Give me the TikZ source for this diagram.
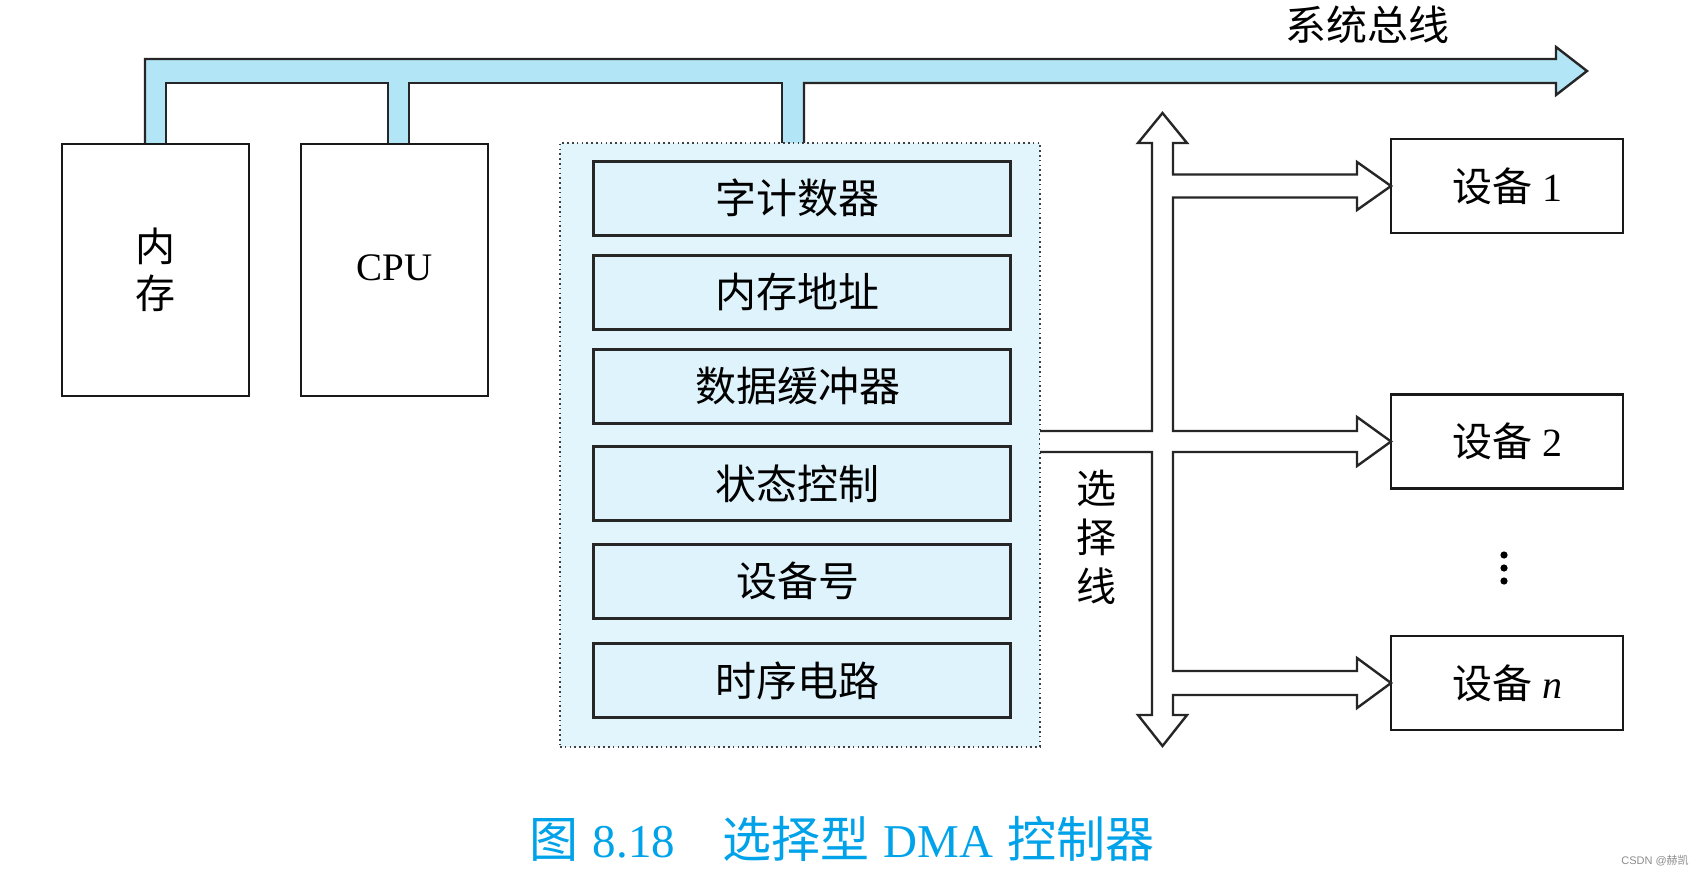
\documentclass[tikz,border=0pt]{standalone}
\usepackage{fontspec}
\setmainfont{Liberation Serif}
\newfontfamily\cjk{Noto Sans CJK SC}
\newfontfamily\wmfont{Liberation Sans}
\definecolor{busfill}{RGB}{178,230,247}
\definecolor{dmafill}{RGB}{226,245,252}
\definecolor{regfill}{RGB}{222,243,251}
\definecolor{capcol}{RGB}{0,163,233}
\begin{document}
\begin{tikzpicture}[x=1pt,y=-1pt,
  box/.style={draw=black!90, line width=2.4pt, inner sep=0pt, outer sep=0pt, fill=white},
  regbox/.style={draw=black!85, line width=3pt, fill=regfill, inner sep=0pt, outer sep=0pt,
    minimum width=417, minimum height=74, font=\cjk\fontsize{41}{46}\selectfont},
  devbox/.style={box, minimum width=232, minimum height=94, font=\fontsize{40}{46}\selectfont},
  outline/.style={draw=black!85, line width=2.4pt, line join=miter},
  lbl/.style={font=\cjk\fontsize{41}{48}\selectfont, inner sep=0pt, align=center}]
\useasboundingbox[fill=white] (0,0) rectangle (1704,876);

% system bus (fat arrow)
\fill[busfill] (145,144) -- (145,59) -- (1556,59) -- (1556,47) -- (1587,71) -- (1556,95) -- (1556,83)
  -- (804,83) -- (804,143) -- (782,143) -- (782,83) -- (409,83) -- (409,144) -- (388,144) -- (388,83)
  -- (166,83) -- (166,144) -- cycle;
\draw[outline] (145,144) -- (145,59) -- (1556,59) -- (1556,47) -- (1587,71) -- (1556,95) -- (1556,83) -- (804,83) -- (804,143);
\draw[outline] (782,143) -- (782,83) -- (409,83) -- (409,144);
\draw[outline] (388,144) -- (388,83) -- (166,83) -- (166,144);
\node[lbl] (busLabel) at (1367,25) {系统总线};

% memory and CPU
\node[box, anchor=north west, minimum width=187, minimum height=252, align=center,
      font=\cjk\fontsize{40}{47}\selectfont] (mem) at (62,144) {内\\存};
\node[box, anchor=north west, minimum width=187, minimum height=252,
      font=\fontsize{39}{44}\selectfont] (cpu) at (301,144) {\raisebox{5pt}{CPU}};

% DMA controller
\node[draw=black!75, fill=dmafill, line width=2pt, dash pattern=on 1.6pt off 3.2pt,
      anchor=north west, minimum width=480, minimum height=604, inner sep=0pt, outer sep=0pt] (dma) at (560,143) {};
\node[regbox] (r1) at (801.5,198) {字计数器\hspace*{8pt}};
\node[regbox] (r2) at (801.5,292) {内存地址\hspace*{8pt}};
\node[regbox] (r3) at (801.5,386) {数据缓冲器\hspace*{8pt}};
\node[regbox] (r4) at (801.5,483.5) {状态控制\hspace*{8pt}};
\node[regbox] (r5) at (801.5,581) {设备号\hspace*{8pt}};
\node[regbox] (r6) at (801.5,680.5) {时序电路\hspace*{8pt}};

% devices
\node[devbox] (dev1) at (1507,186) {{\cjk 设备} 1};
\node[devbox] (dev2) at (1507,441.5) {{\cjk 设备} 2};
\node[devbox] (devn) at (1507,683) {{\cjk 设备} \textit{n}};
\fill (1504,555) circle (3.6) (1504,568) circle (3.6) (1504,581) circle (3.6);

% selection line bus
\draw[outline, fill=white] (dma.east |- 0,431) -- (1152,431) -- (1152,143) -- (1138,143) -- (1162.5,113) -- (1187,143) -- (1173,143)
  -- (1173,174.5) -- (1357,174.5) -- (1357,162) -- (dev1.west) -- (1357,210) -- (1357,197.5) -- (1173,197.5)
  -- (1173,431) -- (1357,431) -- (1357,417) -- (dev2.west) -- (1357,466) -- (1357,452) -- (1173,452)
  -- (1173,671) -- (1357,671) -- (1357,658) -- (devn.west) -- (1357,708) -- (1357,695) -- (1173,695)
  -- (1173,715) -- (1187,715) -- (1162.5,746) -- (1138,715) -- (1152,715) -- (1152,452) -- (dma.east |- 0,452);
\node[lbl, font=\cjk\fontsize{40}{49}\selectfont] (selLabel) at (1096,537) {选\\择\\线};

% caption
\node[text=capcol, inner sep=0pt, font=\fontsize{47}{52}\selectfont] (caption) at (842,839)
  {{\cjk\fontsize{49}{52}\selectfont 图}\hspace{0.3em}8.18\hspace{1.0em}{\cjk\fontsize{49}{52}\selectfont 选择型}\hspace{0.3em}DMA\hspace{0.3em}{\cjk\fontsize{49}{52}\selectfont 控制器}};
\node[text=black!45, inner sep=0pt, font=\wmfont\fontsize{11}{13}\selectfont] (wm) at (1655,861) {CSDN @{\cjk 赫凯}};
\end{tikzpicture}
\end{document}
